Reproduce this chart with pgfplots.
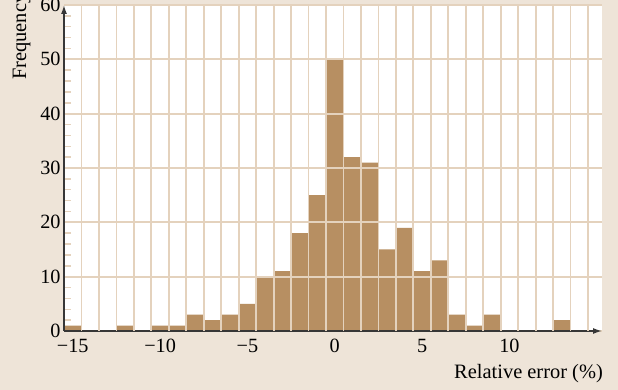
\documentclass[border=0pt]{standalone}
\usepackage{fontspec}
\setmainfont{Liberation Serif}
\usepackage{pgfplots}
\pgfplotsset{compat=1.18}
\usetikzlibrary{arrows.meta}
\definecolor{bgc}{RGB}{238,228,216}
\definecolor{barc}{RGB}{183,143,98}
\definecolor{gridc}{RGB}{228,210,189}
\definecolor{axc}{RGB}{55,55,55}
\begin{document}
\begin{tikzpicture}
\path[use as bounding box, fill=bgc] (0,0) rectangle (618bp,390bp);
\begin{axis}[
  at={(64bp,59bp)}, anchor=south west,
  scale only axis, width=538bp, height=326bp,
  xmin=-15.5, xmax=15.3, ymin=0, ymax=60,
  axis lines=left,
  axis line style={axc, line width=1.5bp, -{Latex[length=9bp,width=6bp]}},
  axis background/.style={fill=white},
  axis on top,
  xtick={-15,-10,-5,0,5,10},
  xticklabels={−15,−10,−5,0,5,10},
  extra x ticks={-14.5,-13.5,...,14.5},
  extra x tick labels={},
  extra x tick style={grid=major, major tick length=0pt},
  ytick={0,10,...,60},
  minor y tick num=4,
  ymajorgrids,
  major grid style={gridc, line width=1.8bp},
  major tick length=0pt,
  minor tick length=7bp,
  every minor tick/.style={gridc, line width=1.5bp},
  tick align=inside,
  tick label style={font=\fontsize{20.3}{24}\selectfont},
  /pgf/number format/assume math mode=true,
  xticklabel style={yshift=-4.5bp},
]
\addplot[ybar, bar width=1, bar shift=0pt, fill=barc, draw=none] coordinates {
(-15,1) (-14,0) (-13,0) (-12,1) (-11,0) (-10,1) (-9,1) (-8,3) (-7,2) (-6,3)
(-5,5) (-4,10) (-3,11) (-2,18) (-1,25) (0,50) (1,32) (2,31) (3,15) (4,19)
(5,11) (6,13) (7,3) (8,1) (9,3) (10,0) (11,0) (12,0) (13,2)
};
\end{axis}
\node[rotate=90, anchor=base west, inner sep=0pt, font=\fontsize{20.5}{24}\selectfont] at (26bp,310bp) {Frequency};
\node[anchor=base east, inner sep=0pt, font=\fontsize{20.5}{24}\selectfont] at (603bp,12bp) {Relative error (\%)};
\end{tikzpicture}
\end{document}
